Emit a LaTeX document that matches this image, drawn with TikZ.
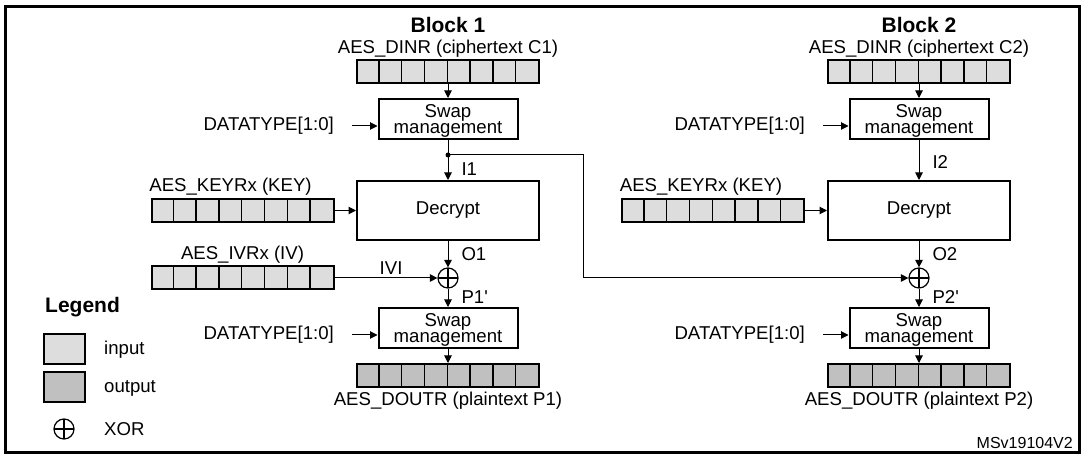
\documentclass[tikz,border=0pt]{standalone}
\usepackage{fontspec}
\setmainfont{Liberation Sans}
\usepackage{tikz}
\usetikzlibrary{arrows.meta,positioning}
\definecolor{ingray}{RGB}{221,221,221}
\definecolor{outgray}{RGB}{192,192,192}
\tikzset{x=1pt,y=-1pt,
  every node/.style={font=\fontsize{18.6}{16.5}\selectfont,inner sep=0pt},
  flow/.style={-{Triangle[length=7.5pt,width=7.5pt]},line width=1pt},
  swapbox/.style={draw,line width=2pt,minimum width=139pt,minimum height=40pt,align=center,text depth=0pt},
  cryptbox/.style={draw,line width=2pt,minimum width=182pt,minimum height=59pt},
  reg/.style={draw,line width=2pt,minimum width=182pt,minimum height=23pt,fill=ingray},
  legbox/.style={draw,line width=2pt,minimum width=41pt,minimum height=30pt},
  xorop/.style={draw,circle,line width=1.2pt,minimum size=20pt,
    path picture={\draw[line width=1.2pt] (path picture bounding box.north) -- (path picture bounding box.south)
      (path picture bounding box.west) -- (path picture bounding box.east);}},
  head/.style={font=\bfseries\fontsize{21}{24}\selectfont}
}

\begin{document}
\begin{tikzpicture}
    \useasboundingbox (0,0) rectangle (1085,454);
    \draw[line width=2.2pt] (5.5,6.5) rectangle (1079.5,452.5);

    % block 1
    \node[head,anchor=base] (b1) at (448,33) {Block 1};
    \node[reg] (din1) at (448,72) {};
    \node[above=2pt of din1] (dl1) {AES\_DINR (ciphertext C1)};
    \node[swapbox] (sw1) at (448,119) {Swap\\management};
    \node[anchor=east] (dt1) at (334,126) {DATATYPE[1:0]};
    \coordinate (j1) at (448,155);
    \node[cryptbox] (dec1) at (448,210.5) {Decrypt};
    \node[reg] (key1) at (242.5,210.5) {};
    \node[above=2pt of key1,xshift=-12pt] (kl1) {AES\_KEYRx (KEY)};
    \node[reg] (iv1) at (242.5,278) {};
    \node[above=2pt of iv1] (il1) {AES\_IVRx (IV)};
    \node[xorop] (x1) at (448,278) {};
    \node[swapbox] (sw1b) at (448,328) {Swap\\management};
    \node[anchor=east] (dt1b) at (334,335) {DATATYPE[1:0]};
    \node[reg,fill=outgray] (dout1) at (448,375.5) {};
    \node[below=4pt of dout1] (ol1) {AES\_DOUTR (plaintext P1)};

    % block 2
    \node[head,anchor=base] (b2) at (919,33) {Block 2};
    \node[reg] (din2) at (919,72) {};
    \node[above=2pt of din2] (dl2) {AES\_DINR (ciphertext C2)};
    \node[swapbox] (sw2) at (919,119) {Swap\\management};
    \node[anchor=east] (dt2) at (805,126) {DATATYPE[1:0]};
    \node[cryptbox] (dec2) at (919,210.5) {Decrypt};
    \node[reg] (key2) at (713,210.5) {};
    \node[above=2pt of key2,xshift=-12pt] (kl2) {AES\_KEYRx (KEY)};
    \node[xorop] (x2) at (919,278) {};
    \node[swapbox] (sw2b) at (919,328) {Swap\\management};
    \node[anchor=east] (dt2b) at (805,335) {DATATYPE[1:0]};
    \node[reg,fill=outgray] (dout2) at (919,375.5) {};
    \node[below=4pt of dout2] (ol2) {AES\_DOUTR (plaintext P2)};
    \coordinate (t1) at (583,155);

    % register cells
    \foreach \r in {din1,key1,iv1,dout1,din2,key2,dout2}
      \foreach \i in {1,...,7}
        \draw[line width=1.4pt] ([xshift=\i*22.8pt]\r.north west) -- ([xshift=\i*22.8pt]\r.south west);

    \path
    (din1) edge[flow] (sw1)
    (sw1) edge[flow] node[pos=0.74,right=13pt] (i1) {I1} (dec1)
    (key1) edge[flow] (dec1)
    (dec1) edge[flow] node[pos=0.5,right=13pt] (o1) {O1} (x1)
    (iv1) edge[flow] node[pos=0.55,above=3pt] (ivi) {IVI} (x1)
    (x1) edge[flow] node[pos=0.45,right=13pt] (p1) {P1\textquotesingle} (sw1b)
    (sw1b) edge[flow] (dout1)
    (din2) edge[flow] (sw2)
    (sw2) edge[flow] node[pos=0.55,right=13pt] (i2) {I2} (dec2)
    (key2) edge[flow] (dec2)
    (dec2) edge[flow] node[pos=0.5,right=13pt] (o2) {O2} (x2)
    (x2) edge[flow] node[pos=0.45,right=13pt] (p2) {P2\textquotesingle} (sw2b)
    (sw2b) edge[flow] (dout2)
    ;
    \foreach \d/\s in {dt1/sw1,dt1b/sw1b,dt2/sw2,dt2b/sw2b}
      \draw[flow,shorten <=18pt] (\d.east) -- (\d.east -| \s.west);
    \fill (j1) circle (2.5pt);
    \draw[flow] (j1) -- (t1) |- (x2);

    % legend
    \node[head,anchor=west] (lg) at (45,307) {Legend};
    \node[legbox,fill=ingray] (lin) at (64,349) {};
    \node[anchor=west] (lint) at (104,350) {input};
    \node[legbox,fill=outgray] (lout) at (64,387.5) {};
    \node[anchor=west] (loutt) at (104,388.5) {output};
    \node[xorop] (lx) at (64,429) {};
    \node[anchor=west] (lxt) at (104,429) {XOR};
    \node[anchor=base east,font=\fontsize{16}{18}\selectfont] (ms) at (1073,449) {MSv19104V2};
\end{tikzpicture}
\end{document}
